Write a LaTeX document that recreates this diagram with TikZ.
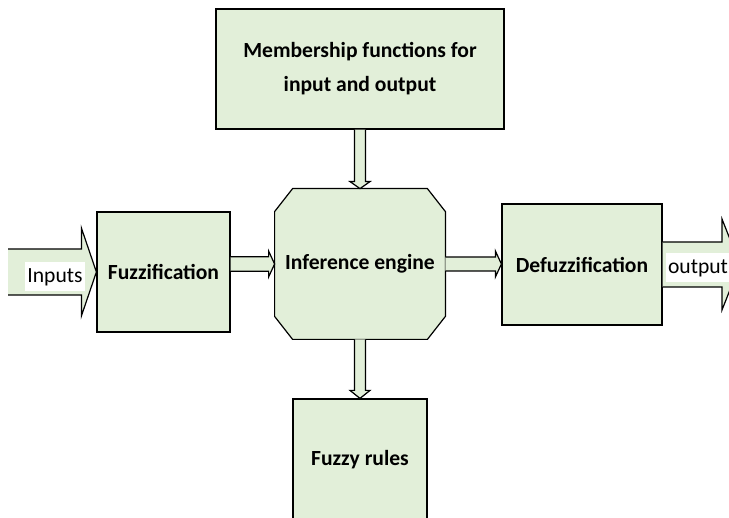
\documentclass[tikz,border=0pt]{standalone}
\usepackage{fontspec}
\setmainfont{Carlito}
\usetikzlibrary{calc, positioning, backgrounds}
\definecolor{boxgreen}{HTML}{E2EFD9}
\tikzstyle{block} = [rectangle, draw=black, fill=boxgreen, line width=0.6pt, text centered, align=center, font=\bfseries\fontsize{10.8}{17}\selectfont]
\tikzstyle{octo} = [rectangle, text centered, minimum width=85pt, minimum height=75pt, font=\bfseries\fontsize{10.8}{13}\selectfont]
\tikzstyle{iolabel} = [fill=white, inner xsep=1pt, inner ysep=0pt, minimum height=14.5pt, font=\fontsize{10.8}{13}\selectfont]
\tikzstyle{fatarrow} = [draw=black, fill=boxgreen, line width=0.6pt, line join=miter]

% block arrows: start, end, shaft half, head half, head length
\newcommand{\rightblock}[5]{\draw[fatarrow] let \p1=(#1), \p2=(#2) in
  (\x1,\y1+#3) -- (\x2-#5,\y1+#3) -- (\x2-#5,\y1+#4) -- (\x2,\y1)
  -- (\x2-#5,\y1-#4) -- (\x2-#5,\y1-#3) -- (\x1,\y1-#3);}
\newcommand{\downblock}[5]{\draw[fatarrow] let \p1=(#1), \p2=(#2) in
  (\x1-#3,\y1) -- (\x1-#3,\y2+#5) -- (\x1-#4,\y2+#5) -- (\x1,\y2)
  -- (\x1+#4,\y2+#5) -- (\x1+#3,\y2+#5) -- (\x1+#3,\y1);}

\begin{document}
\begin{tikzpicture}[x=0.5pt, y=-0.5pt]
\useasboundingbox (0,0) rectangle (729,518);
\clip (0,0) rectangle (729,518);

\node (member)[block, minimum width=144pt, minimum height=60pt] at (360,69) {Membership functions for\\input and output};
\node (fuzz)[block, minimum width=66.5pt, minimum height=60pt] at (163.5,272) {Fuzzification};
\node (infer)[octo] at (360,264) {Inference engine};
\node (defuzz)[block, minimum width=80pt, minimum height=60.5pt] at (582,264.5) {Defuzzification};
\node (rules)[block, minimum width=67pt, minimum height=61pt] at (360,460) {Fuzzy rules};
\coordinate (instart) at (8,272);
\coordinate (outend) at (740,264.5);

\begin{scope}[on background layer]
\draw[fatarrow] ([xshift=9pt]infer.north west) -- ([xshift=-9pt]infer.north east)
  -- ([yshift=-11.5pt]infer.north east) -- ([yshift=11.5pt]infer.south east)
  -- ([xshift=-9pt]infer.south east) -- ([xshift=9pt]infer.south west)
  -- ([yshift=11.5pt]infer.south west) -- ([yshift=-11.5pt]infer.north west) -- cycle;
\end{scope}

\rightblock{instart}{fuzz.west}{11.5pt}{22pt}{7.5pt}
\rightblock{fuzz.east |- infer.west}{infer.west}{3.6pt}{6.5pt}{3pt}
\rightblock{infer.east}{defuzz.west}{3.5pt}{6.5pt}{3pt}
\rightblock{defuzz.east}{outend}{11.25pt}{22.75pt}{9pt}
\downblock{member.south}{infer.north}{2.75pt}{5pt}{3.5pt}
\downblock{infer.south}{rules.north}{2.75pt}{5pt}{4pt}

\node (inlabel)[iolabel] at (55,277) {Inputs};
\node (outlabel)[iolabel] at (698,268) {output};
\end{tikzpicture}
\end{document}
